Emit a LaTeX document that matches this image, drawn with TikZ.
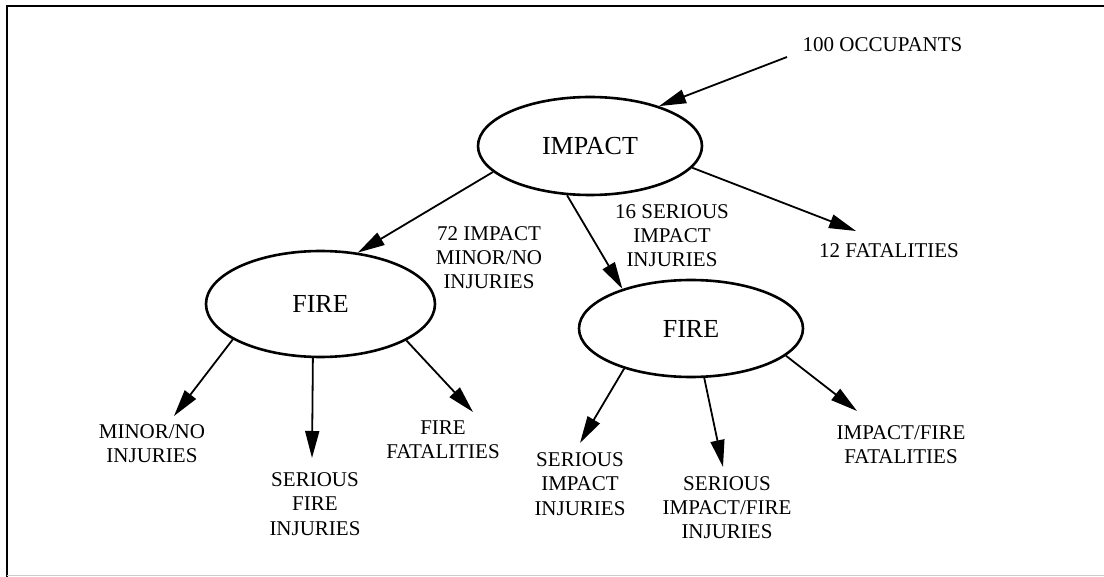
\documentclass[tikz,border=0pt]{standalone}
\usepackage{fontspec}
\setmainfont{Liberation Serif}
\usetikzlibrary{arrows.meta,shapes.geometric}
\begin{document}
\begin{tikzpicture}[x=1pt,y=-1pt,
  oval/.style={draw, ellipse, line width=2.6pt, inner sep=0pt, font=\fontsize{26}{30}\selectfont},
  lbl/.style={inner sep=0pt, align=center, font=\fontsize{21}{24.3}\selectfont},
  arr/.style={line width=1.8pt, -{Triangle[length=27pt,width=14pt]}},
  frameline/.style={line width=2pt}]
\useasboundingbox (0,0) rectangle (1104,577);
% frame
\draw[frameline] (6.5,577) -- (6.5,6.5) -- (1104,6.5);
\draw[line width=1.5pt, black!20] (6.5,575.5) -- (1104,575.5);
% ellipses
\node[oval, minimum width=224pt, minimum height=98pt] (impact) at (590,146) {IMPACT};
\node[oval, minimum width=229pt, minimum height=106pt] (fireL) at (320.5,304) {FIRE};
\node[oval, minimum width=224pt, minimum height=97pt] (fireR) at (691,328.5) {FIRE};
% labels
\node[lbl] (occ) at (882.5,44.5) {100 OCCUPANTS};
\node[lbl] (lab72) at (489,257.5) {72 IMPACT\\MINOR/NO\\INJURIES};
\node[lbl] (lab16) at (672,235.5) {16 SERIOUS\\IMPACT\\INJURIES};
\node[lbl] (fat12) at (889,251) {12 FATALITIES};
\node[lbl] (minor) at (152,444) {MINOR/NO\\INJURIES};
\node[lbl] (serfire) at (315,504) {SERIOUS\\FIRE\\INJURIES};
\node[lbl] (firefat) at (443,439.5) {FIRE\\FATALITIES};
\node[lbl] (serimp) at (580,484) {SERIOUS\\IMPACT\\INJURIES};
\node[lbl] (serimpfire) at (727,507.5) {SERIOUS\\IMPACT/FIRE\\INJURIES};
\node[lbl] (impfirefat) at (901,444.5) {IMPACT/FIRE\\FATALITIES};
% free arrow ends
\coordinate (occstart) at (787,57);
\coordinate (t12) at (856,231);
\coordinate (tminor) at (174,416);
\coordinate (tserfire) at (312,458);
\coordinate (tfirefat) at (473,412);
\coordinate (tserimp) at (580,443);
\coordinate (tserimpfire) at (723,467);
\coordinate (timpfirefat) at (857,411);
% arrows
\draw[arr] (occstart) -- (impact.30.8);
\draw[arr] (impact.195) -- (fireL.54.2);
\draw[arr] (impact.245.8) -- (fireR.150.2);
\draw[arr] (impact.-12.2) -- (t12);
\draw[arr] (fireL.202.4) -- (tminor);
\draw[arr] (fireL.262) -- (tserfire);
\draw[arr] (fireL.-23.9) -- (tfirefat);
\draw[arr] (fireR.211.3) -- (tserimp);
\draw[arr] (fireR.-75.2) -- (tserimpfire);
\draw[arr] (fireR.-16.3) -- (timpfirefat);
\end{tikzpicture}
\end{document}
